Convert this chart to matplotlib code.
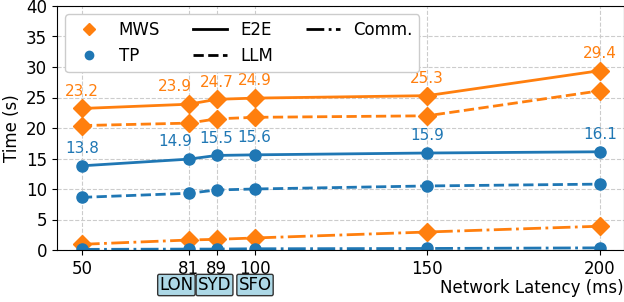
import matplotlib
matplotlib.use("Agg")
import matplotlib.pyplot as plt
from matplotlib.lines import Line2D

latency = [50, 81, 89, 100, 150, 200]
label_shift_px = [0, -14, 0, 0, 0, 0]
city_ticks = [81, 89, 100]
city_names = ["LON", "SYD", "SFO"]
city_shift_px = [-12.5, -2, 0.5]

mws_e2e = [23.2, 23.9, 24.7, 24.9, 25.3, 29.4]
mws_llm = [20.4, 20.8, 21.5, 21.75, 22.0, 26.1]
mws_comm = [0.93, 1.64, 1.75, 1.97, 2.95, 3.9]

tp_e2e = [13.8, 14.9, 15.5, 15.6, 15.9, 16.1]
tp_llm = [8.63, 9.3, 9.84, 10.0, 10.5, 10.8]
tp_comm = [0.1, 0.15, 0.15, 0.2, 0.25, 0.35]

ORANGE = "#ff7f0e"
BLUE = "#1f77b4"
PT = 0.72  # points per pixel at 100 dpi

fig = plt.figure(figsize=(6.24, 3.02), dpi=100)
ax = fig.add_axes([57/624, 52/302, 1 - 57/624, 244/302])

for vals, ls in [(mws_e2e, "-"), (mws_llm, "--"), (mws_comm, "-.")]:
    ax.plot(latency, vals, color=ORANGE, linestyle=ls, marker="D", markersize=9, linewidth=2)
for vals, ls in [(tp_e2e, "-"), (tp_llm, "--"), (tp_comm, "-.")]:
    ax.plot(latency, vals, color=BLUE, linestyle=ls, marker="o", markersize=8, linewidth=2)

for x, v, dx in zip(latency, mws_e2e, label_shift_px):
    ax.annotate(f"{v}", (x, v), xytext=(dx * PT, 7), textcoords="offset points",
                ha="center", va="bottom", color=ORANGE, fontsize=11)
for x, v, dx in zip(latency, tp_e2e, label_shift_px):
    ax.annotate(f"{v}", (x, v), xytext=(dx * PT, 7), textcoords="offset points",
                ha="center", va="bottom", color=BLUE, fontsize=11)

ax.set_xlim(42.8, 207)
ax.set_ylim(0, 40)
ax.set_xticks(latency)
ax.set_xticklabels([str(x) for x in latency], fontsize=12)
ax.set_yticks(range(0, 41, 5))
ax.tick_params(axis="y", labelsize=12)
ax.set_ylabel("Time (s)", fontsize=12)
ax.set_xlabel("Network Latency (ms)", fontsize=12)
ax.xaxis.set_label_coords(1.0, -0.118)
ax.xaxis.label.set_ha("right")
ax.grid(True, linestyle="--", color="#cccccc", linewidth=0.8)

for x, name, dx in zip(city_ticks, city_names, city_shift_px):
    ax.annotate(name, (x, 0), xycoords=ax.get_xaxis_transform(),
                xytext=(dx * PT, -35 * PT), textcoords="offset points",
                ha="center", va="center", fontsize=12,
                bbox=dict(boxstyle="round,pad=0.1", facecolor="#add8e6", edgecolor="#333333"))

handles = [
    Line2D([], [], color=ORANGE, marker="D", linestyle="none", markersize=6),
    Line2D([], [], color=BLUE, marker="o", linestyle="none", markersize=6),
    Line2D([], [], color="black", linestyle="-", linewidth=2),
    Line2D([], [], color="black", linestyle="--", linewidth=2),
    Line2D([], [], color="black", linestyle="-.", linewidth=2),
]
labels = ["MWS", "TP", "E2E", "LLM", "Comm."]
ax.legend(handles, labels, ncol=3, loc="upper left", fontsize=12, framealpha=1)

fig.savefig("out.png", dpi=100)
